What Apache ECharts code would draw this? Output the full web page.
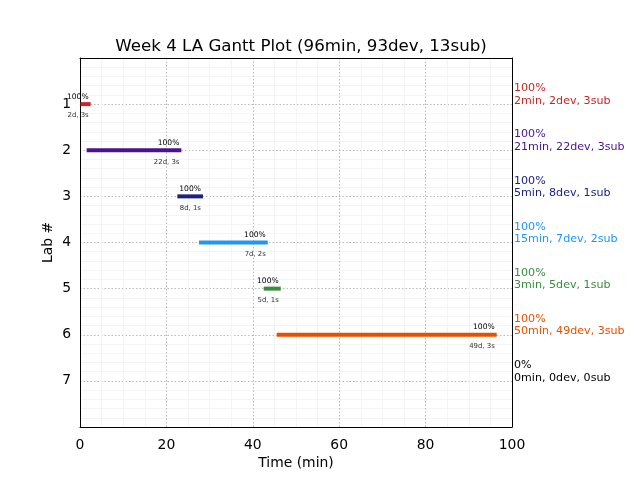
<!DOCTYPE html>
<html>
<head>
<meta charset="utf-8">
<script src="https://cdn.jsdelivr.net/npm/echarts@6/dist/echarts.min.js"></script>
<style>html,body{margin:0;padding:0;background:#fff;}#chart{width:640px;height:480px;}</style>
</head>
<body>
<div id="chart"></div>
<script>
const labs = [1, 2, 3, 4, 5, 6, 7];
const startMin = [0, 2, 23, 28, 43, 46, 0];
const endMin = [2, 23, 28, 43, 46, 96, 0];
const pctLabels = ['100%', '100%', '100%', '100%', '100%', '100%', '0%'];
const barNotes = ['2d, 3s', '22d, 3s', '8d, 1s', '7d, 2s', '5d, 1s', '49d, 3s', ''];
const summaries = ['2min, 2dev, 3sub', '21min, 22dev, 3sub', '5min, 8dev, 1sub', '15min, 7dev, 2sub', '3min, 5dev, 1sub', '50min, 49dev, 3sub', '0min, 0dev, 0sub'];
const colors = ['#c62828', '#4a148c', '#1a237e', '#2196f3', '#388e3c', '#e65100', '#000000'];
const xTicks = [0, 20, 40, 60, 80, 100];
const yTicks = [1, 2, 3, 4, 5, 6, 7];

const FONT = 'DejaVu Sans';
const data = labs.map((l, i) => [l, startMin[i], endMin[i], i]);

const gridLine = {show: true, lineStyle: {color: '#b8b8b8', type: [1.5, 2], width: 1}};
const minorLine = {show: true, lineStyle: {color: '#f4f4f4', width: 1}};
const solidAxisLine = {show: true, onZero: false, lineStyle: {color: '#000', width: 1}};
const borderAxisCommon = {
  axisLine: solidAxisLine,
  axisTick: {show: false}, axisLabel: {show: false}, splitLine: {show: false}, z: 5
};

const chart = echarts.init(document.getElementById('chart'), null, {renderer: 'canvas'});
chart.setOption({
  backgroundColor: '#fff',
  animation: false,
  title: {
    text: 'Week 4 LA Gantt Plot (96min, 93dev, 13sub)',
    left: 296, top: 33, textAlign: 'center',
    textStyle: {fontFamily: FONT, fontSize: 16.67, fontWeight: 'normal', color: '#000'}
  },
  grid: {left: 80, right: 128, top: 58, bottom: 53, show: false},
  xAxis: [{
    type: 'value', min: 0, max: 100, interval: 20, position: 'bottom',
    name: 'Time (min)', nameLocation: 'middle', nameGap: 29, nameMoveOverlap: false,
    nameTextStyle: {fontFamily: FONT, fontSize: 13.9, color: '#000'},
    axisLine: solidAxisLine,
    axisTick: {show: false},
    axisLabel: {fontFamily: FONT, fontSize: 13.9, color: '#000', margin: 11,
      formatter: v => xTicks.includes(v) ? String(v) : ''},
    splitLine: gridLine,
    minorTick: {show: false, splitNumber: 4},
    minorSplitLine: minorLine,
    z: 5
  }, Object.assign({}, borderAxisCommon, {type: 'value', min: 0, max: 100, position: 'top'})],
  yAxis: [{
    type: 'value', min: 0, max: 8, interval: 1, inverse: true, position: 'left',
    name: 'Lab #', nameLocation: 'middle', nameGap: 25, nameRotate: 90, nameMoveOverlap: false,
    nameTextStyle: {fontFamily: FONT, fontSize: 13.9, color: '#000'},
    axisLine: solidAxisLine,
    axisTick: {show: false},
    axisLabel: {fontFamily: FONT, fontSize: 13.9, color: '#000', margin: 9,
      formatter: v => yTicks.includes(v) ? String(v) : ''},
    splitLine: gridLine,
    minorTick: {show: false, splitNumber: 5},
    minorSplitLine: minorLine,
    z: 5
  }, Object.assign({}, borderAxisCommon, {type: 'value', min: 0, max: 8, inverse: true, position: 'right'})],
  series: [{
    type: 'custom',
    clip: false,
    z: 10,
    data: data,
    encode: {x: [1, 2], y: 0},
    renderItem: function (params, api) {
      const lab = api.value(0), s = api.value(1), e = api.value(2), idx = api.value(3);
      const cs = params.coordSys;
      const p0 = api.coord([s, lab]);
      const p1 = api.coord([e, lab]);
      const y = p0[1];
      const col = colors[idx];
      const children = [];
      if (e > s) {
        const x0 = Math.max(p0[0] - 2, cs.x + 0.5);
        const x1 = Math.min(p1[0] + 2, cs.x + cs.width);
        children.push({type: 'rect', shape: {x: x0, y: y - 2, width: x1 - x0, height: 4}, style: {fill: col}});
        children.push({type: 'text', style: {text: pctLabels[idx], x: p1[0], y: y - 3.5, align: 'right', verticalAlign: 'bottom', fontFamily: FONT, fontSize: 7.6, fill: '#000'}});
        children.push({type: 'text', style: {text: barNotes[idx], x: p1[0], y: y + 8, align: 'right', verticalAlign: 'top', fontFamily: FONT, fontSize: 6.9, fill: '#333'}});
      }
      children.push({type: 'text', style: {text: pctLabels[idx] + '\n' + summaries[idx], x: cs.x + cs.width + 2, y: y + 3, align: 'left', verticalAlign: 'bottom', fontFamily: FONT, fontSize: 11.1, lineHeight: 12.5, fill: col}});
      return {type: 'group', children: children};
    }
  }]
});
</script>
</body>
</html>
